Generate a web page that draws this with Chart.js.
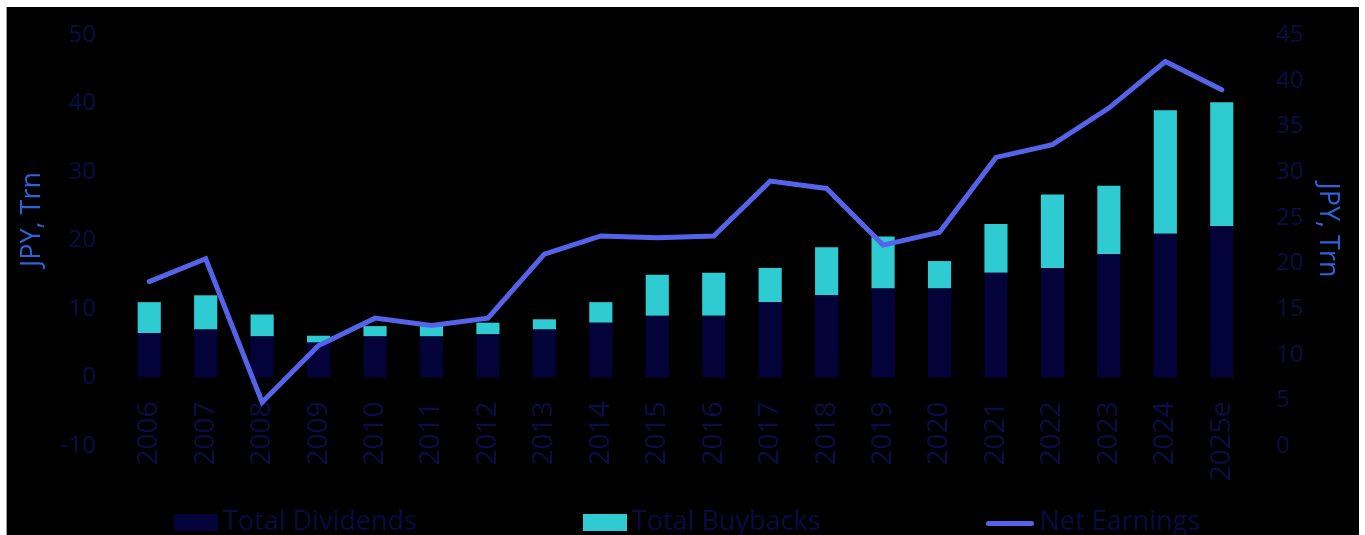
<!DOCTYPE html>
<html>
<head>
<meta charset="utf-8">
<title>Dividends, buybacks and net earnings</title>
<script src="https://cdn.jsdelivr.net/npm/chart.js@4.4.1/dist/chart.umd.min.js"></script>
<style>
    html, body { margin: 0; padding: 0; background: #ffffff; overflow: hidden; }
    #frame {
        position: absolute; left: 7px; top: 7px; width: 1352px; height: 528px;
        background: #000000; box-shadow: -1px 0 0 #9a9a9a;
    }
    #chart-wrap { position: absolute; left: 0; top: 0; width: 1352px; height: 528px; }
    #legend {
        position: absolute; left: 8px; right: 0; top: 498px; height: 30px;
        display: flex; justify-content: center; align-items: center; gap: 166px;
        font-family: "Open Sans", sans-serif; font-size: 27px; color: #0a0a45;
        white-space: nowrap;
    }
    .legend-item { display: flex; align-items: center; line-height: 30px; }
    .swatch { display: inline-block; margin-right: 5px; position: relative; top: 2px; }
</style>
</head>
<body>
<div id="frame">
    <div id="chart-wrap"><canvas id="payoutChart"></canvas></div>
    <div id="legend"></div>
</div>
<script>
// values (JPY trn)
const years = ['2006', '2007', '2008', '2009', '2010', '2011', '2012', '2013', '2014', '2015',
               '2016', '2017', '2018', '2019', '2020', '2021', '2022', '2023', '2024', '2025e'];
const totalDividends = [6.5, 7.0, 6.0, 5.1, 6.0, 6.0, 6.3, 7.0, 8.0, 9.0,
                        9.0, 11.0, 12.0, 13.0, 13.0, 15.3, 16.0, 18.0, 21.0, 22.1];
const totalBuybacks = [4.5, 5.0, 3.2, 1.0, 1.5, 1.5, 1.7, 1.5, 3.0, 6.0,
                       6.3, 5.0, 7.0, 7.6, 4.0, 7.1, 10.7, 10.0, 18.0, 18.1];
const netEarnings = [18.0, 20.5, 4.8, 11.0, 14.0, 13.2, 14.0, 21.0, 23.0, 22.8,
                     23.0, 29.0, 28.2, 22.0, 23.4, 31.6, 33.0, 37.0, 42.1, 39.0];

const leftTicks = { min: -10, max: 50, step: 10 };
const rightTicks = { min: 0, max: 45, step: 5 };

const navy = '#03033a';
const teal = '#2ecbd3';
const lineBlue = '#5563ea';
const tickColor = '#0c0c48';
const titleColor = '#2b63d9';

const ctx = document.getElementById('payoutChart').getContext('2d');

const chart = new Chart(ctx, {
    type: 'bar',
    data: {
        labels: years,
        datasets: [
            {
                label: 'Net Earnings',
                type: 'line',
                data: netEarnings,
                yAxisID: 'y1',
                borderColor: lineBlue,
                backgroundColor: lineBlue,
                borderWidth: 5,
                borderCapStyle: 'round',
                pointRadius: 0,
                tension: 0,
                order: 0
            },
            {
                label: 'Total Dividends',
                data: totalDividends,
                yAxisID: 'y',
                backgroundColor: navy,
                barPercentage: 0.41,
                categoryPercentage: 1,
                order: 1
            },
            {
                label: 'Total Buybacks',
                data: totalBuybacks,
                yAxisID: 'y',
                backgroundColor: teal,
                barPercentage: 0.41,
                categoryPercentage: 1,
                order: 2
            }
        ]
    },
    options: {
        responsive: true,
        maintainAspectRatio: false,
        animation: false,
        layout: { padding: { top: 28, bottom: 89, left: 0, right: 0 } },
        plugins: {
            legend: { display: false },
            tooltip: { enabled: false }
        },
        scales: {
            x: {
                stacked: true,
                position: { y: 0 }, // category axis crosses at zero
                grid: { display: false, drawTicks: false },
                border: { display: false },
                ticks: {
                    color: tickColor,
                    font: { family: 'Open Sans', size: 28 },
                    minRotation: 90,
                    maxRotation: 90,
                    padding: 24,
                    autoSkip: false
                }
            },
            y: {
                stacked: true,
                position: 'left',
                min: leftTicks.min,
                max: leftTicks.max,
                // hidden tick marks give the label gap without padding the plot top
                grid: { display: false, drawTicks: true, tickLength: 25 },
                border: { display: false },
                ticks: {
                    stepSize: leftTicks.step,
                    color: tickColor,
                    font: { family: 'Open Sans', size: 24 },
                    padding: 0
                },
                title: {
                    display: true,
                    // leading spaces nudge the title up the axis, like the original
                    text: '      JPY, Trn',
                    color: titleColor,
                    font: { family: 'Open Sans', size: 27 },
                    padding: { top: 9, bottom: 0 }
                },
                afterFit: (scale) => { scale.width = 114; }
            },
            y1: {
                position: 'right',
                min: rightTicks.min,
                max: rightTicks.max,
                grid: { display: false, drawTicks: true, tickLength: 26 },
                border: { display: false },
                ticks: {
                    stepSize: rightTicks.step,
                    color: tickColor,
                    font: { family: 'Open Sans', size: 24 },
                    padding: 0
                },
                title: {
                    display: true,
                    text: 'JPY, Trn   ',
                    color: titleColor,
                    font: { family: 'Open Sans', size: 27 },
                    padding: { top: 15, bottom: 0 }
                },
                afterFit: (scale) => { scale.width = 109; }
            }
        }
    }
});

// legend in the chart's order: dividends, buybacks, earnings
const legendDiv = document.getElementById('legend');
const legendOrder = [1, 2, 0];
legendOrder.forEach(i => {
    const ds = chart.data.datasets[i];
    const item = document.createElement('div');
    item.className = 'legend-item';
    const swatch = document.createElement('span');
    swatch.className = 'swatch';
    if (ds.type === 'line') {
        swatch.style.width = '48px';
        swatch.style.height = '5px';
        swatch.style.borderRadius = '3px';
        swatch.style.top = '3px';
        swatch.style.background = ds.borderColor;
    } else {
        swatch.style.width = '44px';
        swatch.style.height = '17px';
        swatch.style.background = ds.backgroundColor;
    }
    item.appendChild(swatch);
    item.appendChild(document.createTextNode(ds.label));
    legendDiv.appendChild(item);
});
</script>
</body>
</html>
